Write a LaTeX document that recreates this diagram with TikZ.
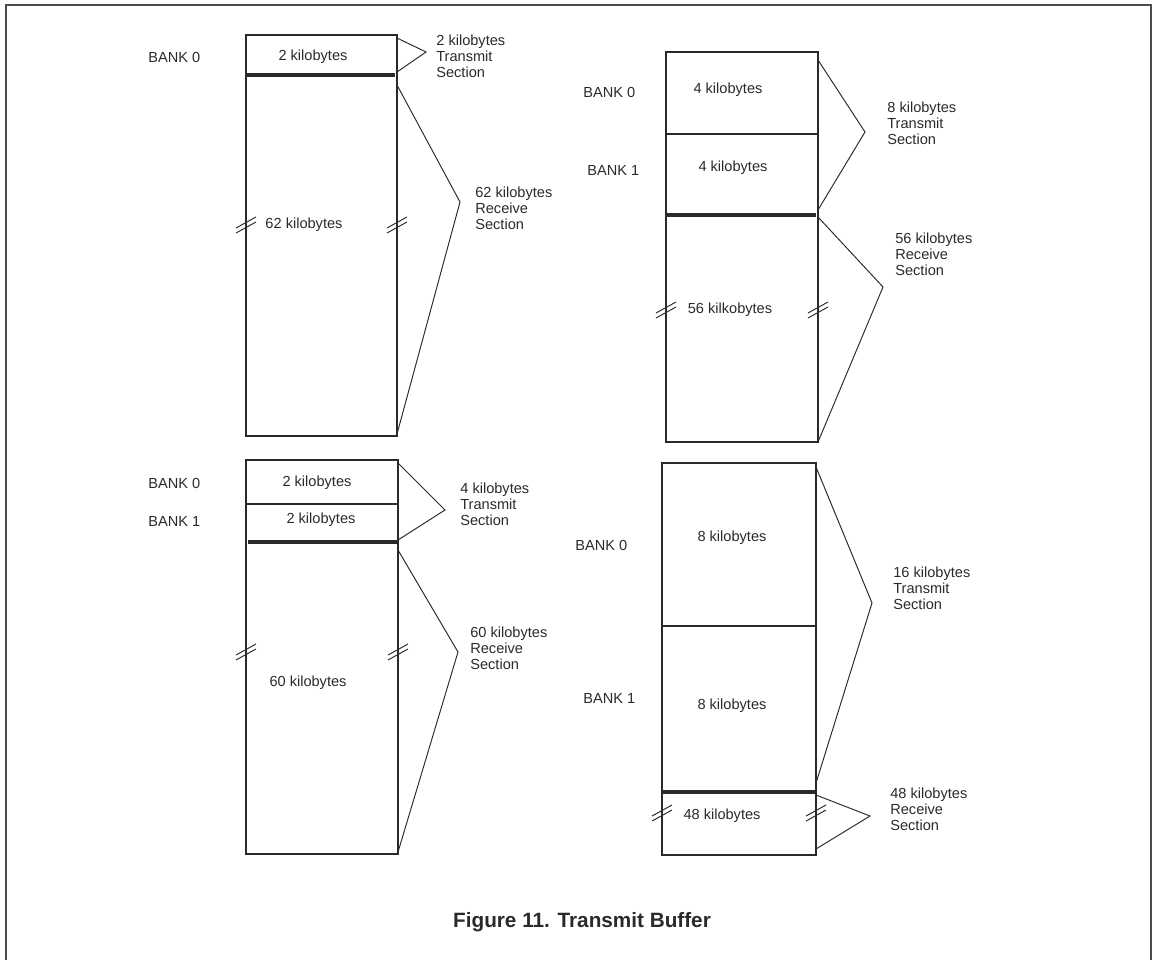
\documentclass[tikz,border=0pt]{standalone}
\usepackage{fontspec}
\setmainfont{Liberation Sans}
\usetikzlibrary{positioning}

\definecolor{ink}{HTML}{2A2A2A}

\tikzset{
  lbl/.style={font=\fontsize{8.3}{9.1}\selectfont, text=ink, inner sep=0pt},
  sect/.style={lbl, align=left, anchor=north west},
  bank/.style={lbl, anchor=west},
  box/.style={draw=ink, line width=0.85pt},
  split/.style={draw=ink, line width=1.1pt},
  rxline/.style={draw=ink, line width=2.4pt},
  brace/.style={draw=ink, line width=0.55pt},
  brk/.pic={\draw[ink, line width=0.55pt] (-10,3) -- (10,-8) (-10,8) -- (10,-3);}
}

\begin{document}
\begin{tikzpicture}[x=0.02cm, y=-0.02cm]
  \useasboundingbox (0,0) rectangle (1153,960);
  % Frame (open at the bottom)
  \draw[black!70, line width=1.1pt] (6,965) -- (6,5) -- (1151,5) -- (1151,965);

  % ---------- top left: 2K transmit ----------
  \coordinate (a1) at (246,35);  \coordinate (a2) at (397,436);
  \draw[box] (a1) rectangle (a2);
  \draw[rxline] (246,75) -- (395,75);
  \node[bank] (a0) at (148,57) {BANK 0};
  \node[lbl] (ak1) at (313,57) {2 kilobytes};
  \node[lbl] (ak2) at (304,225) {62 kilobytes};
  \pic at (246,225) {brk};
  \pic at (397,225) {brk};
  % brackets
  \coordinate (atx1) at (397,38);  \coordinate (atx) at (426,52);  \coordinate (atx2) at (397,72);
  \coordinate (arx1) at (397,85);  \coordinate (arx) at (460,202); \coordinate (arx2) at (397,434);
  \draw[brace] (atx1) -- (atx) -- (atx2);
  \draw[brace] (arx1) -- (arx) -- (arx2);
  \node[sect] (atl) at (436,35) {2 kilobytes\\Transmit\\Section};
  \node[sect] (arl) at (475,187) {62 kilobytes\\Receive\\Section};

  % ---------- top right: 8K transmit ----------
  \coordinate (b1) at (666,52);  \coordinate (b2) at (818,442);
  \draw[box] (b1) rectangle (b2);
  \draw[split] (666,134) -- (818,134);
  \draw[rxline] (666,215) -- (816,215);
  \node[bank] (b0) at (583,92) {BANK 0};
  \node[bank] (bb1) at (587,170) {BANK 1};
  \node[lbl] (bk1) at (728,90) {4 kilobytes};
  \node[lbl] (bk2) at (733,168) {4 kilobytes};
  \node[lbl] (bk3) at (730,310) {56 kilkobytes};
  \pic at (666,310) {brk};
  \pic at (818,310) {brk};
  % brackets
  \coordinate (btx1) at (818,60);  \coordinate (btx) at (865,132); \coordinate (btx2) at (818,210);
  \coordinate (brx1) at (818,217); \coordinate (brx) at (883,287); \coordinate (brx2) at (818,442);
  \draw[brace] (btx1) -- (btx) -- (btx2);
  \draw[brace] (brx1) -- (brx) -- (brx2);
  \node[sect] (btl) at (887,102) {8 kilobytes\\Transmit\\Section};
  \node[sect] (brl) at (895,233) {56 kilobytes\\Receive\\Section};

  % ---------- bottom left: 4K transmit ----------
  \coordinate (c1) at (246,460); \coordinate (c2) at (398,854);
  \draw[box] (c1) rectangle (c2);
  \draw[box] (246,504) -- (398,504);
  \draw[rxline] (248,542) -- (398,542);
  \node[bank] (c0) at (148,483) {BANK 0};
  \node[bank] (cb1) at (148,521) {BANK 1};
  \node[lbl] (ck1) at (317,483) {2 kilobytes};
  \node[lbl] (ck2) at (321,520) {2 kilobytes};
  \node[lbl] (ck3) at (308,683) {60 kilobytes};
  \pic at (246,652) {brk};
  \pic at (398,652) {brk};
  % brackets
  \coordinate (ctx1) at (398,463); \coordinate (ctx) at (445,510); \coordinate (ctx2) at (398,540);
  \coordinate (crx1) at (398,550); \coordinate (crx) at (458,652); \coordinate (crx2) at (398,852);
  \draw[brace] (ctx1) -- (ctx) -- (ctx2);
  \draw[brace] (crx1) -- (crx) -- (crx2);
  \node[sect] (ctl) at (460,483) {4 kilobytes\\Transmit\\Section};
  \node[sect] (crl) at (470,627) {60 kilobytes\\Receive\\Section};

  % ---------- bottom right: 16K transmit ----------
  \coordinate (d1) at (662,463); \coordinate (d2) at (816,855);
  \draw[box] (d1) rectangle (d2);
  \draw[split] (662,626) -- (816,626);
  \draw[rxline] (662,792) -- (816,792);
  \node[bank] (d0) at (575,545) {BANK 0};
  \node[bank] (db1) at (583,698) {BANK 1};
  \node[lbl] (dk1) at (732,538) {8 kilobytes};
  \node[lbl] (dk2) at (732,706) {8 kilobytes};
  \node[lbl] (dk3) at (722,816) {48 kilobytes};
  \pic at (662,813) {brk};
  \pic at (816,813) {brk};
  % brackets
  \coordinate (dtx1) at (816,467); \coordinate (dtx) at (872,603); \coordinate (dtx2) at (816,783);
  \coordinate (drx1) at (816,795); \coordinate (drx) at (870,816); \coordinate (drx2) at (816,849);
  \draw[brace] (dtx1) -- (dtx) -- (dtx2);
  \draw[brace] (drx1) -- (drx) -- (drx2);
  \node[sect] (dtl) at (893,567) {16 kilobytes\\Transmit\\Section};
  \node[sect] (drl) at (890,788) {48 kilobytes\\Receive\\Section};

  % Caption
  \node[inner sep=0pt, text=ink, font=\fontsize{11.8}{14}\selectfont\bfseries] (cap) at (582,922) {Figure 11. Transmit Buffer};
\end{tikzpicture}
\end{document}
